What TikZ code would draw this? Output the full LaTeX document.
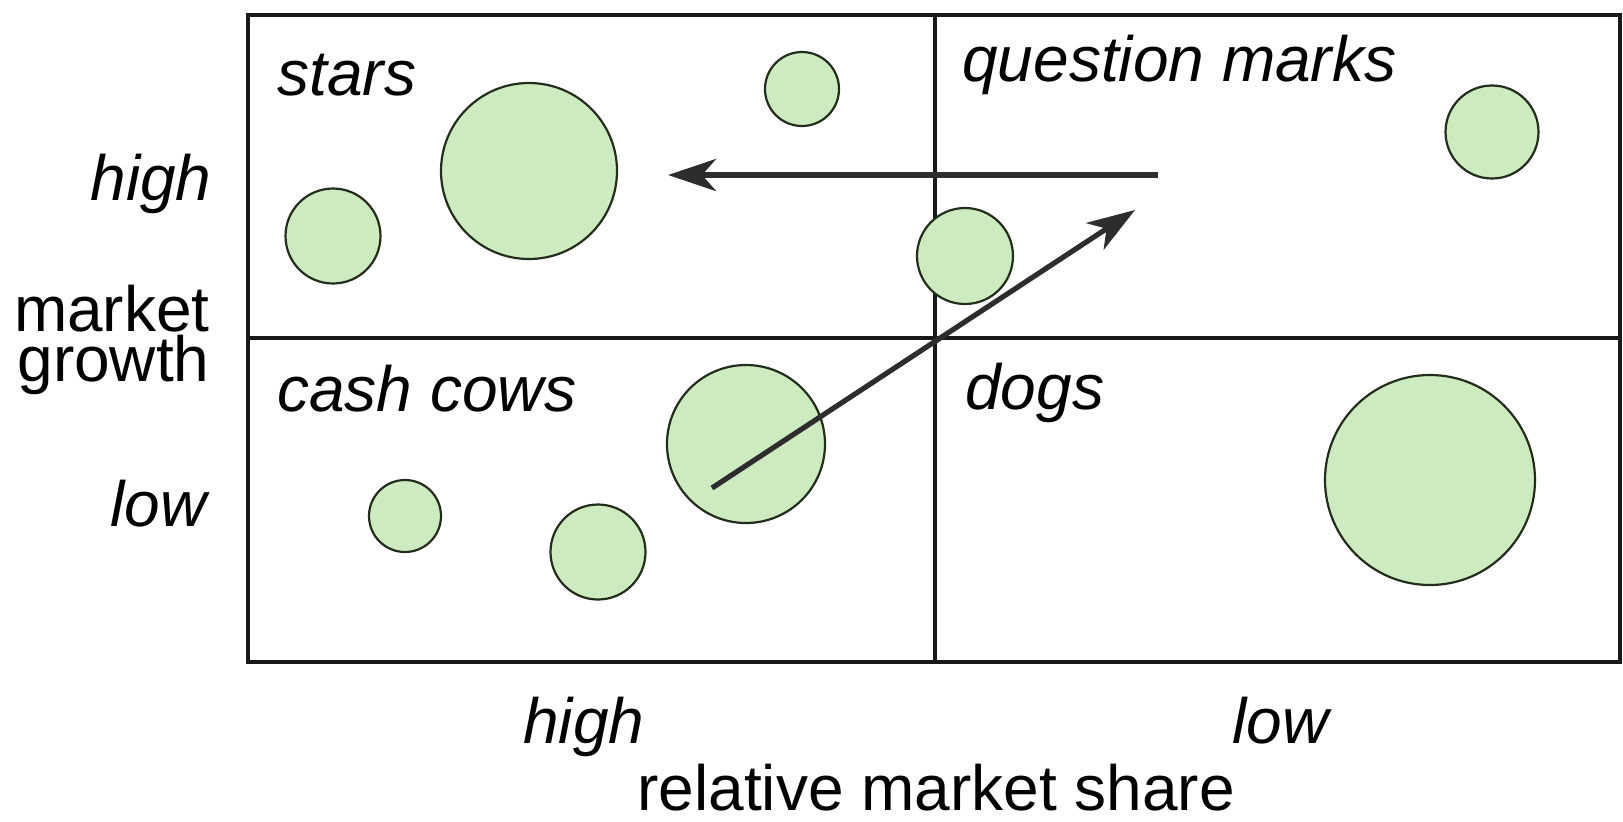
\documentclass[tikz,border=0pt]{standalone}
\usepackage{fontspec}
\setmainfont{Liberation Sans}
\usetikzlibrary{arrows.meta}
\definecolor{bubblegreen}{RGB}{206,234,193}
\definecolor{bubbleedge}{RGB}{35,45,28}
\definecolor{arrowgray}{RGB}{45,45,45}
\tikzset{
  bubble/.style={circle, fill=bubblegreen, draw=bubbleedge, line width=1.1pt, inner sep=0pt},
  gridline/.style={line width=2pt, draw=black!90},
  flow/.style={line width=2.6pt, draw=arrowgray, -{Stealth[length=24pt, width=16pt, inset=7pt]}},
  lbl/.style={inner sep=0pt, font=\fontsize{32}{25}\selectfont},
  ilbl/.style={lbl, font=\fontsize{32}{25}\selectfont\itshape}
}
\begin{document}
\begin{tikzpicture}[x=0.5pt, y=-0.5pt]
\useasboundingbox (0,0) rectangle (1623,821);
% grid
\draw[gridline] (248,15) rectangle (1620,662);
\draw[gridline] (935,15) -- (935,662);
\draw[gridline] (248,338) -- (1620,338);
% bubbles
\node[bubble, minimum size=47.5pt] (b1) at (333,236) {};
\node[bubble, minimum size=88pt] (b2) at (529,171) {};
\node[bubble, minimum size=37pt] (b3) at (802,89) {};
\node[bubble, minimum size=46.5pt] (b4) at (1492,132) {};
\node[bubble, minimum size=48pt] (b5) at (965,256) {};
\node[bubble, minimum size=79pt] (b6) at (746,444) {};
\node[bubble, minimum size=36pt] (b7) at (405,516) {};
\node[bubble, minimum size=47.5pt] (b8) at (598,552) {};
\node[bubble, minimum size=105pt] (b9) at (1430,480) {};
% arrows
\coordinate (a1s) at (1158,175);
\coordinate (a1e) at (668,175);
\coordinate (a2s) at (712,488);
\coordinate (a2e) at (1135,210);
\draw[flow] (a1s) -- (a1e);
\draw[flow] (a2s) -- (a2e);
% quadrant labels
\node[ilbl, anchor=base west] (qs) at (277,95) {stars};
\node[ilbl, anchor=base west] (qq) at (962,81) {question marks};
\node[ilbl, anchor=base west] (qc) at (277,411) {cash cows};
\node[ilbl, anchor=base west] (qd) at (965,409) {dogs};
% axis labels
\node[ilbl, anchor=base east] (yh) at (212,200) {high};
\node[lbl, anchor=base east, align=right] (ym) at (210,381) {market\\growth};
\node[ilbl, anchor=base east] (yl) at (207,526) {low};
\node[ilbl, anchor=base west] (xh) at (523,743) {high};
\node[ilbl, anchor=base west] (xl) at (1232,743) {low};
\node[lbl, anchor=base west] (xm) at (637,810) {relative market share};
\end{tikzpicture}
\end{document}
